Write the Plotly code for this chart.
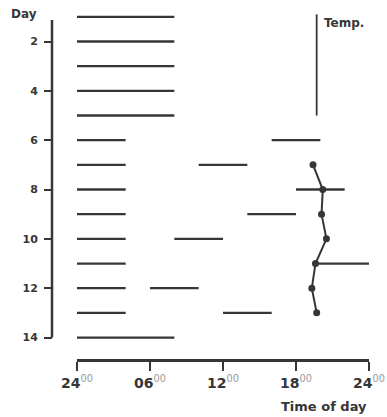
import plotly.graph_objects as go

# Activity bouts per day: (day, start hour, end hour), hours counted from midnight
bout_day = [1, 2, 3, 4, 5, 6, 7, 8, 9, 10, 11, 12, 13, 14,
            6, 7, 8, 9, 10, 11, 12, 13]
bout_start = [0, 0, 0, 0, 0, 0, 0, 0, 0, 0, 0, 0, 0, 0,
              16, 10, 18, 14, 8, 19.5, 6, 12]
bout_end = [8, 8, 8, 8, 8, 4, 4, 4, 4, 4, 4, 4, 4, 8,
            20, 14, 22, 18, 12, 24, 10, 16]

# Body temperature trace (plotted on the time-of-day scale)
temp_line_days = [0.9, 5.0]
temp_line_pos = [19.7, 19.7]
temp_days = [7, 8, 9, 10, 11, 12, 13]
temp_pos = [19.4, 20.2, 20.1, 20.5, 19.6, 19.3, 19.7]

# Axis ticks
day_ticks = [2, 4, 6, 8, 10, 12, 14]
hour_ticks = [0, 6, 12, 18, 24]
hour_labels = ["24", "06", "12", "18", "24"]

INK = "#363636"
FONT = "DejaVu Sans"
W, H = 387, 417

xs, ys = [], []
for d, s, e in zip(bout_day, bout_start, bout_end):
    xs += [s, e, None]
    ys += [d, d, None]

fig = go.Figure()
fig.add_trace(go.Scatter(x=xs, y=ys, mode="lines",
                         line=dict(color=INK, width=2.3),
                         hoverinfo="skip", showlegend=False))
fig.add_trace(go.Scatter(x=temp_line_pos, y=temp_line_days, mode="lines",
                         line=dict(color=INK, width=1.8),
                         showlegend=False))
fig.add_trace(go.Scatter(x=temp_pos, y=temp_days, mode="lines+markers",
                         line=dict(color=INK, width=2),
                         marker=dict(color=INK, size=7),
                         showlegend=False))

tick_text = [f"<b>{t}</b><sup><span style='color:#9a9a9a'>00</span></sup>"
             for t in hour_labels]

y_left = 52 / W
fig.update_layout(
    template="none",
    width=W, height=H,
    margin=dict(l=0, r=0, t=0, b=0),
    paper_bgcolor="white", plot_bgcolor="white",
    font=dict(family=FONT, color=INK),
    xaxis=dict(domain=[77 / W, 369 / W], range=[0, 24], automargin=False,
               tickvals=hour_ticks, ticktext=tick_text,
               showline=True, linecolor=INK, linewidth=3,
               ticks="outside", ticklen=9, tickwidth=2, tickcolor=INK,
               showgrid=False, zeroline=False,
               tickfont=dict(size=14, family=FONT, color=INK)),
    yaxis=dict(domain=[(H - 359) / H, (H - 5) / H], range=[14.87, 0.52],
               anchor="free", position=y_left, automargin=False,
               tickvals=day_ticks, ticktext=[f"<b>{d}</b>" for d in day_ticks],
               showline=False, ticks="outside", ticklen=8, tickwidth=2,
               tickcolor=INK, ticklabelstandoff=4,
               showgrid=False, zeroline=False,
               tickfont=dict(size=11, family=FONT, color=INK)),
    shapes=[dict(type="line", xref="paper", yref="y",
                 x0=y_left, x1=y_left, y0=1.13, y1=14.0,
                 line=dict(color=INK, width=2.5))],
    annotations=[
        dict(text="<b>Day</b>", xref="paper", yref="paper",
             x=9 / W, y=1 - 14 / H, xanchor="left", yanchor="middle",
             showarrow=False, font=dict(size=12, family=FONT, color=INK)),
        dict(text="<b>Temp.</b>", xref="paper", yref="paper",
             x=322 / W, y=1 - 23 / H, xanchor="left", yanchor="middle",
             showarrow=False, font=dict(size=12, family=FONT, color=INK)),
        dict(text="<b>Time of day</b>", xref="paper", yref="paper",
             x=369 / W, y=1 - 406 / H, xanchor="right", yanchor="middle",
             showarrow=False, font=dict(size=13, family=FONT, color=INK)),
    ],
)

fig.write_html("out.html")
